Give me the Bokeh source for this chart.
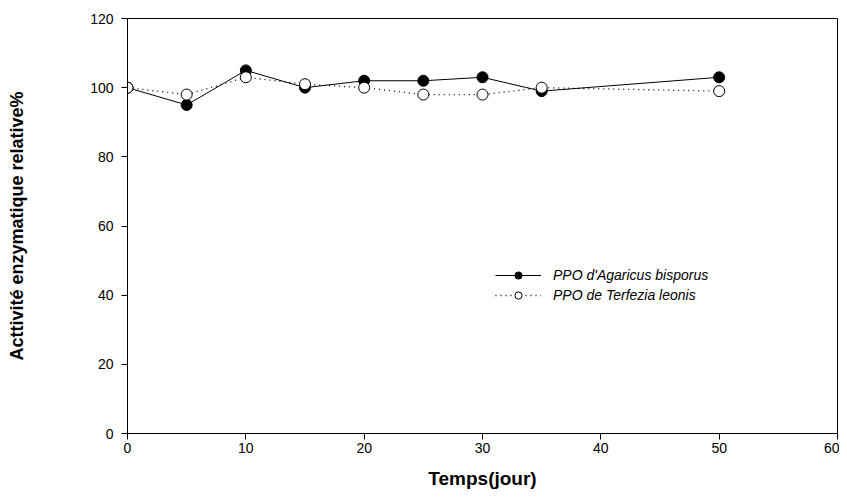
from bokeh.plotting import figure
from bokeh.models import Legend, LegendItem, Range1d, FixedTicker
from bokeh.embed import file_html
from bokeh.resources import INLINE

days = [0, 5, 10, 15, 20, 25, 30, 35, 50]
agaricus = [100, 95, 105, 100, 102, 102, 103, 99, 103]
terfezia = [100, 98, 103, 101, 100, 98, 98, 100, 99]
x_ticks = [0, 10, 20, 30, 40, 50, 60]
y_ticks = [0, 20, 40, 60, 80, 100, 120]

FONT = "Liberation Sans"

p = figure(width=839, height=494, output_backend="svg", toolbar_location=None,
           x_range=Range1d(0, 60), y_range=Range1d(0, 120))
p.min_border_left = 127
p.min_border_right = 2
p.min_border_top = 18
p.min_border_bottom = 61
p.grid.visible = False
p.outline_line_color = "black"
p.outline_line_width = 1
p.background_fill_color = "white"
p.border_fill_color = "white"

for ax in (p.xaxis[0], p.yaxis[0]):
    ax.axis_line_color = "black"
    ax.major_tick_line_color = "black"
    ax.major_tick_in = 0
    ax.major_tick_out = 6
    ax.minor_tick_line_color = None
    ax.major_label_text_font = FONT
    ax.major_label_text_font_size = "14px"
    ax.major_label_text_color = "black"
    ax.axis_label_text_font = FONT
    ax.axis_label_text_font_style = "bold"
    ax.axis_label_text_color = "black"

p.xaxis.axis_label_text_font_size = "19px"
p.yaxis.axis_label_text_font_size = "18px"
p.xaxis.ticker = FixedTicker(ticks=x_ticks)
p.yaxis.ticker = FixedTicker(ticks=y_ticks)
p.xaxis.axis_label = "Temps(jour)"
p.yaxis.axis_label = "Acttivité enzymatique relative%"
p.xaxis.major_label_standoff = 3
p.xaxis.axis_label_standoff = 12
p.yaxis.major_label_standoff = 8
p.yaxis.axis_label_standoff = 60

l1 = p.line(days, agaricus, line_color="black", line_width=1)
s1 = p.scatter(days, agaricus, size=11, fill_color="black", line_color="black")
l2 = p.line(days, terfezia, line_color="black", line_width=1.3, line_dash="1 4")
s2 = p.scatter(days, terfezia, size=11, fill_color="white", line_color="black")

legend = Legend(items=[
    LegendItem(label="PPO d'Agaricus bisporus", renderers=[l1, s1]),
    LegendItem(label="PPO de Terfezia leonis", renderers=[l2, s2]),
], location=(368, 129))
legend.background_fill_alpha = 0
legend.border_line_color = None
legend.label_text_font = FONT
legend.label_text_font_style = "italic"
legend.label_text_font_size = "14px"
legend.label_text_color = "black"
legend.glyph_width = 46
legend.glyph_height = 18
legend.label_height = 18
legend.label_standoff = 12
legend.spacing = 2
legend.padding = 0
legend.margin = 0
p.add_layout(legend)

open("out.html", "w").write(file_html(p, INLINE))
